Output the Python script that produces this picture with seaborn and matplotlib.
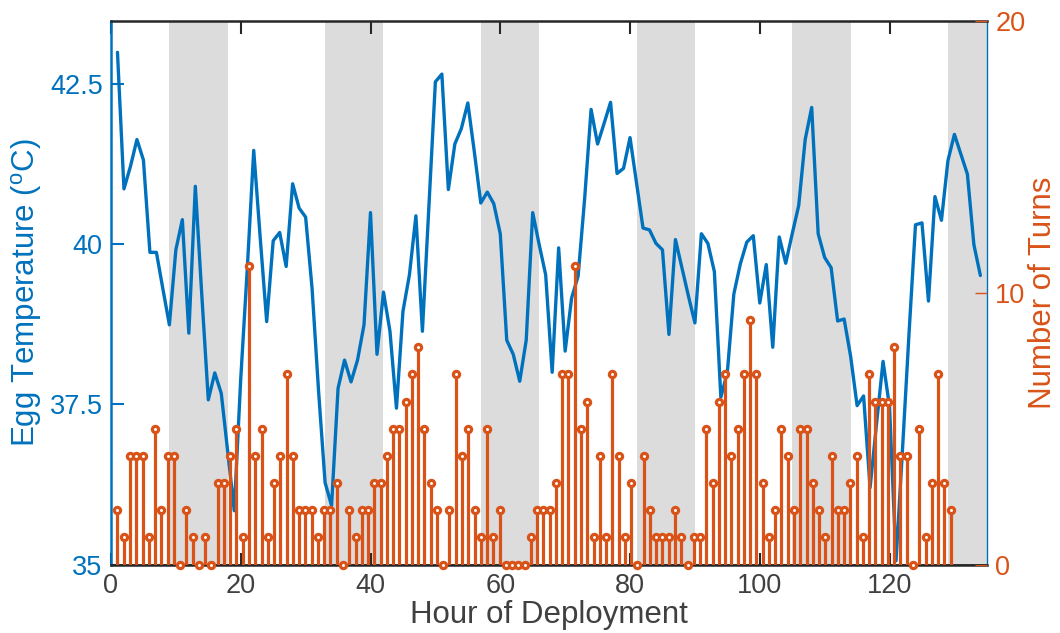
import numpy as np
import pandas as pd
import matplotlib
matplotlib.use("Agg")
import matplotlib.pyplot as plt
import seaborn as sns

# ---- data ----
temperature = [42.99, 40.86, 41.21, 41.63, 41.31, 39.87, 39.87, 39.30, 38.74, 39.91,
               40.38, 38.61, 40.90, 39.20, 37.57, 37.99, 37.67, 36.75, 35.84, 37.90,
               39.60, 41.46, 40.10, 38.79, 40.05, 40.18, 39.65, 40.94, 40.56, 40.42,
               39.30, 37.70, 36.28, 35.92, 37.75, 38.19, 37.85, 38.19, 38.74, 40.49,
               38.28, 39.25, 38.64, 37.44, 38.95, 39.52, 40.44, 38.64, 40.60, 42.53,
               42.65, 40.85, 41.56, 41.80, 42.20, 41.44, 40.64, 40.81, 40.63, 40.16,
               38.50, 38.28, 37.86, 38.50, 40.49, 39.99, 39.52, 38.00, 39.94, 38.33,
               39.16, 39.50, 40.70, 42.10, 41.56, 41.88, 42.21, 41.10, 41.18, 41.66,
               40.96, 40.25, 40.22, 40.01, 39.91, 38.59, 40.07, 39.63, 39.19, 38.77,
               40.16, 40.01, 39.57, 37.61, 38.00, 39.22, 39.69, 40.03, 40.13, 39.08,
               39.68, 38.39, 40.11, 39.70, 40.16, 40.60, 41.63, 42.13, 40.16, 39.79,
               39.63, 38.80, 38.83, 38.25, 37.48, 37.63, 36.20, 37.20, 38.17, 37.46,
               35.06, 36.80, 38.60, 40.30, 40.33, 39.11, 40.74, 40.37, 41.30, 41.71,
               41.40, 41.09, 39.99, 39.51]
turns = [2, 1, 4, 4, 4, 1, 5, 2, 4, 4,
         0, 2, 1, 0, 1, 0, 3, 3, 4, 5,
         1, 11, 4, 5, 1, 3, 4, 7, 4, 2,
         2, 2, 1, 2, 2, 3, 0, 2, 1, 2,
         2, 3, 3, 4, 5, 5, 6, 7, 8, 5,
         3, 2, 0, 2, 7, 4, 5, 2, 1, 5,
         1, 2, 0, 0, 0, 0, 1, 2, 2, 2,
         3, 7, 7, 11, 5, 6, 1, 4, 1, 7,
         4, 1, 3, 0, 4, 2, 1, 1, 1, 2,
         1, 0, 1, 1, 5, 3, 6, 7, 4, 5,
         7, 9, 7, 3, 1, 2, 5, 4, 2, 5,
         5, 3, 2, 1, 4, 2, 2, 3, 4, 1,
         7, 6, 6, 6, 8, 4, 4, 0, 5, 1,
         3, 7, 3, 2]
hours_temp = np.arange(1, len(temperature) + 1)
hours_turns = 1 + np.arange(len(turns)) * 0.9655
night_start = [9, 33, 57, 81, 105, 129]
night_end = [18, 42, 66, 90, 114, 135]
x_ticks = [0, 20, 40, 60, 80, 100, 120]
temp_ticks = [35, 37.5, 40, 42.5]
temp_tick_labels = ["35", "37.5", "40", "42.5"]
turn_ticks = [0, 10, 20]

BLUE = "#0072BD"
ORANGE = "#D95319"
DARK = "#262626"
GRAY = "#404040"

sns.set_theme(style="white")
plt.rcParams["font.family"] = ["Liberation Sans", "DejaVu Sans"]
plt.rcParams["mathtext.fontset"] = "custom"
plt.rcParams["mathtext.rm"] = "Liberation Sans"
plt.rcParams["mathtext.it"] = "Liberation Sans"

df_t = pd.DataFrame({"hour": hours_temp, "temp": temperature})
df_n = pd.DataFrame({"hour": hours_turns, "turns": turns})

fig = plt.figure(figsize=(10.6, 6.33), dpi=100)
ax1 = fig.add_axes([0.1047, 0.108, 0.8263, 0.859])

for s, e in zip(night_start, night_end):
    ax1.axvspan(s, e, color="#dcdcdc", lw=0, zorder=0)

sns.lineplot(data=df_t, x="hour", y="temp", ax=ax1, color=BLUE, lw=2.4, zorder=2)

ax1.set_xlim(0, 135)
ax1.set_ylim(35, 43.48)
ax1.set_xticks(x_ticks)
ax1.set_yticks(temp_ticks)
ax1.set_yticklabels(temp_tick_labels)
ax1.tick_params(axis="x", direction="in", length=9, width=1.5, color=DARK,
                labelcolor=GRAY, labelsize=19.5, top=True, bottom=True, pad=6)
ax1.tick_params(axis="y", direction="in", length=9, width=1.5, color=BLUE,
                labelcolor=BLUE, labelsize=19.5, left=True, pad=6)
ax1.set_xlabel("Hour of Deployment", fontsize=22.5, color=GRAY, labelpad=1)
ax1.set_ylabel(r"Egg Temperature ($^{\rm o}$C)", fontsize=22.5, color=BLUE, labelpad=4)
for side in ["top", "bottom"]:
    ax1.spines[side].set_color(DARK)
    ax1.spines[side].set_linewidth(1.8)
ax1.spines["left"].set_color(BLUE)
ax1.spines["left"].set_linewidth(1.8)
ax1.spines["right"].set_color(BLUE)
ax1.spines["right"].set_linewidth(1.0)

ax2 = ax1.twinx()
ax2.vlines(df_n["hour"], 0, df_n["turns"], color=ORANGE, lw=2.3, zorder=3)
ax2.plot([0, 135], [0, 0], color=DARK, lw=1.8, zorder=2)
sns.scatterplot(data=df_n, x="hour", y="turns", ax=ax2, marker="o", s=20,
                facecolor="white", edgecolor=ORANGE, linewidth=2.3, zorder=4,
                clip_on=False)
ax2.set_xlim(0, 135)
ax2.set_ylim(0, 20)
ax2.set_yticks(turn_ticks)
ax2.tick_params(axis="y", direction="in", length=9, width=1.0, color=ORANGE,
                labelcolor=ORANGE, labelsize=19.5, right=True, pad=6)
ax2.set_ylabel("Number of Turns", fontsize=22.5, color=ORANGE, labelpad=2)
ax2.set_xlabel("")
for sp in ax2.spines.values():
    sp.set_visible(False)

fig.savefig("out.png", dpi=100)
